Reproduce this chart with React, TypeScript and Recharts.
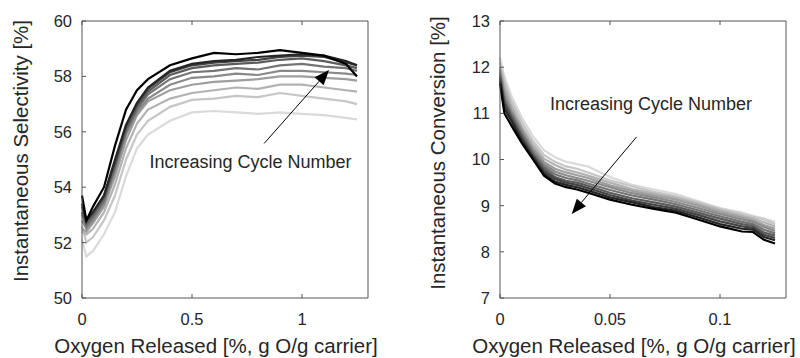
import React from "react";
import {
  LineChart,
  Line,
  XAxis,
  YAxis,
  ReferenceLine,
  ReferenceDot,
} from "recharts";

// cycle colours, first cycle lightest, last cycle black
const cycleColors = [
  "#dadada",
  "#c6c6c6",
  "#b2b2b2",
  "#9e9e9e",
  "#8a8a8a",
  "#747474",
  "#5c5c5c",
  "#444444",
  "#262626",
  "#000000",
];

// selectivity panel
const selX = [0, 0.02, 0.05, 0.1, 0.15, 0.2, 0.25, 0.3, 0.4, 0.5, 0.6, 0.7, 0.8, 0.9, 1.0, 1.1, 1.2, 1.25];
const selCycles = [
  [52.1, 51.5, 51.7, 52.3, 53.1, 54.4, 55.4, 55.9, 56.4, 56.7, 56.75, 56.7, 56.65, 56.7, 56.65, 56.6, 56.5, 56.45],
  [52.6, 52.0, 52.2, 52.8, 53.7, 55.0, 55.9, 56.4, 56.9, 57.15, 57.2, 57.3, 57.25, 57.4, 57.3, 57.2, 57.1, 57.0],
  [52.4, 52.3, 52.5, 53.1, 54.1, 55.4, 56.3, 56.8, 57.2, 57.4, 57.5, 57.6, 57.55, 57.7, 57.7, 57.6, 57.5, 57.45],
  [52.5, 52.4, 52.7, 53.3, 54.4, 55.7, 56.6, 57.1, 57.5, 57.7, 57.8, 57.85, 57.9, 58.0, 58.0, 57.95, 57.9, 57.85],
  [52.8, 52.5, 52.8, 53.4, 54.6, 55.9, 56.7, 57.2, 57.7, 57.95, 58.0, 58.1, 58.05, 58.2, 58.2, 58.15, 58.1, 58.05],
  [53.0, 52.6, 52.9, 53.5, 54.7, 56.0, 56.8, 57.35, 57.9, 58.15, 58.2, 58.3, 58.25, 58.4, 58.45, 58.35, 58.3, 58.2],
  [53.1, 52.7, 53.0, 53.6, 54.8, 56.1, 56.9, 57.45, 58.05, 58.3, 58.4, 58.45, 58.5, 58.6, 58.65, 58.55, 58.4, 58.3],
  [53.3, 52.8, 53.1, 53.7, 54.9, 56.2, 57.0, 57.55, 58.15, 58.4, 58.5, 58.55, 58.6, 58.7, 58.75, 58.7, 58.5, 58.4],
  [53.4, 52.8, 53.1, 53.7, 55.0, 56.25, 57.05, 57.6, 58.2, 58.45, 58.55, 58.6, 58.7, 58.75, 58.8, 58.75, 58.55, 58.4],
  [53.7, 52.8, 53.3, 54.0, 55.5, 56.8, 57.5, 57.9, 58.4, 58.65, 58.85, 58.8, 58.85, 58.95, 58.85, 58.75, 58.45, 58.0],
];
const selXTicks = [0, 0.5, 1];
const selYTicks = [50, 52, 54, 56, 58, 60];

// conversion panel
const convX = [0, 0.002, 0.005, 0.01, 0.015, 0.02, 0.025, 0.03, 0.035, 0.04, 0.05, 0.06, 0.07, 0.08, 0.09, 0.1, 0.11, 0.115, 0.12, 0.125];
const convCycles = [
  [12.2, 11.8, 11.4, 10.9, 10.5, 10.2, 10.05, 9.95, 9.9, 9.85, 9.62, 9.45, 9.35, 9.25, 9.1, 8.95, 8.85, 8.78, 8.72, 8.65],
  [12.1, 11.7, 11.3, 10.8, 10.4, 10.1, 9.95, 9.85, 9.8, 9.72, 9.55, 9.42, 9.3, 9.2, 9.07, 8.93, 8.82, 8.76, 8.7, 8.6],
  [12.0, 11.6, 11.2, 10.7, 10.32, 10.02, 9.88, 9.78, 9.72, 9.65, 9.5, 9.36, 9.26, 9.17, 9.04, 8.9, 8.78, 8.72, 8.64, 8.55],
  [11.95, 11.5, 11.1, 10.65, 10.25, 9.95, 9.8, 9.72, 9.66, 9.6, 9.44, 9.32, 9.22, 9.13, 9.0, 8.86, 8.74, 8.68, 8.58, 8.5],
  [11.9, 11.4, 11.05, 10.6, 10.2, 9.9, 9.74, 9.66, 9.6, 9.54, 9.4, 9.27, 9.18, 9.08, 8.95, 8.82, 8.7, 8.65, 8.54, 8.45],
  [11.85, 11.3, 11.0, 10.55, 10.15, 9.85, 9.68, 9.6, 9.55, 9.48, 9.34, 9.22, 9.13, 9.03, 8.9, 8.77, 8.65, 8.6, 8.48, 8.4],
  [11.8, 11.25, 10.95, 10.5, 10.1, 9.8, 9.62, 9.54, 9.5, 9.43, 9.28, 9.16, 9.07, 8.98, 8.85, 8.72, 8.6, 8.56, 8.42, 8.35],
  [11.75, 11.2, 10.9, 10.45, 10.07, 9.75, 9.58, 9.5, 9.45, 9.38, 9.23, 9.11, 9.02, 8.93, 8.8, 8.66, 8.55, 8.52, 8.37, 8.3],
  [11.7, 11.1, 10.85, 10.4, 10.03, 9.7, 9.52, 9.45, 9.4, 9.33, 9.18, 9.07, 8.97, 8.89, 8.75, 8.6, 8.5, 8.48, 8.32, 8.25],
  [11.65, 11.0, 10.75, 10.35, 10.0, 9.65, 9.48, 9.4, 9.35, 9.28, 9.13, 9.02, 8.93, 8.85, 8.7, 8.55, 8.44, 8.43, 8.26, 8.18],
];
const convXTicks = [0, 0.05, 0.1];
const convYTicks = [7, 8, 9, 10, 11, 12, 13];

// annotation anchors (data coordinates)
const selArrow = [{ x: 0.828, y: 55.58 }, { x: 1.123, y: 58.23 }];
const selNote = { x: 0.307, y: 54.68 };
const convArrow = [{ x: 0.0621, y: 10.49 }, { x: 0.0326, y: 8.82 }];
const convNote = { x: 0.0227, y: 11.07 };

const FONT = '"Liberation Sans", Arial, Helvetica, sans-serif';
const TEXT = "#262626";
const BOX = "#555555";
const TICK = 4;

function buildRows(xs: number[], cycles: number[][]) {
  return xs.map((x, i) => {
    const row: Record<string, number> = { x };
    cycles.forEach((c, k) => {
      row[`c${k + 1}`] = c[i];
    });
    return row;
  });
}

const LeftTick = (props: any) => {
  const { x, y, payload } = props;
  return (
    <g>
      <line x1={x + 10} y1={y} x2={x + 10 + TICK} y2={y} stroke={BOX} />
      <text x={x} y={y} dy="0.36em" textAnchor="end" fill={TEXT} fontSize={16.5} fontFamily={FONT}>
        {payload.value}
      </text>
    </g>
  );
};

const RightTick = (props: any) => {
  const { x, y } = props;
  return <line x1={x} y1={y} x2={x - TICK} y2={y} stroke={BOX} />;
};

const TopTick = (props: any) => {
  const { x, y } = props;
  return <line x1={x} y1={y} x2={x} y2={y + TICK} stroke={BOX} />;
};

const BottomTick = (props: any) => {
  const { x, y, payload } = props;
  return (
    <g>
      <line x1={x} y1={y} x2={x} y2={y - TICK} stroke={BOX} />
      <text x={x} y={y + 27} textAnchor="middle" fill={TEXT} fontSize={16.5} fontFamily={FONT}>
        {payload.value}
      </text>
    </g>
  );
};

const Arrow = (props: any) => {
  const { x1, y1, x2, y2 } = props;
  const len = Math.hypot(x2 - x1, y2 - y1);
  const ux = (x2 - x1) / len;
  const uy = (y2 - y1) / len;
  const headLen = 15;
  const headHalf = 6;
  const bx = x2 - ux * headLen;
  const by = y2 - uy * headLen;
  const pts = `${x2},${y2} ${bx - uy * headHalf},${by + ux * headHalf} ${bx + uy * headHalf},${by - ux * headHalf}`;
  return (
    <g>
      <line x1={x1} y1={y1} x2={bx} y2={by} stroke="#000" strokeWidth={1} />
      <polygon points={pts} fill="#000" />
    </g>
  );
};

const Note = (props: any) => (
  <text x={props.cx} y={props.cy} fill={TEXT} fontSize={18} fontFamily={FONT}>
    Increasing Cycle Number
  </text>
);

interface PanelProps {
  rows: Record<string, number>[];
  xDomain: [number, number];
  yDomain: [number, number];
  xTicks: number[];
  yTicks: number[];
  yAxisWidth: number;
  rightMargin: number;
  xLabelX: number;
  yLabelX: number;
  yLabelY: number;
  yLabel: string;
  arrow: { x: number; y: number }[];
  note: { x: number; y: number };
}

function Panel({
  rows,
  xDomain,
  yDomain,
  xTicks,
  yTicks,
  yAxisWidth,
  rightMargin,
  xLabelX,
  yLabelX,
  yLabelY,
  yLabel,
  arrow,
  note,
}: PanelProps) {
  return (
    <LineChart
      width={400}
      height={358}
      data={rows}
      margin={{ top: 20, right: rightMargin - 1, bottom: 0, left: 0 }}
    >
      <XAxis
        xAxisId="b"
        dataKey="x"
        type="number"
        domain={xDomain}
        ticks={xTicks}
        height={60}
        tickSize={0}
        tickMargin={0}
        tickLine={false}
        axisLine={{ stroke: BOX }}
        tick={<BottomTick />}
        interval={0}
        label={() => (
          <text x={xLabelX} y={353} textAnchor="middle" fill={TEXT} fontSize={20.5} fontFamily={FONT}>
            Oxygen Released [%, g O/g carrier]
          </text>
        )}
      />
      <XAxis
        xAxisId="t"
        orientation="top"
        dataKey="x"
        type="number"
        domain={xDomain}
        ticks={xTicks}
        height={1}
        tickSize={0}
        tickMargin={0}
        tickLine={false}
        axisLine={{ stroke: BOX }}
        tick={<TopTick />}
        interval={0}
      />
      <YAxis
        yAxisId="l"
        type="number"
        domain={yDomain}
        ticks={yTicks}
        width={yAxisWidth}
        tickSize={0}
        tickMargin={10}
        tickLine={false}
        axisLine={{ stroke: BOX }}
        tick={<LeftTick />}
        interval={0}
        label={() => (
          <text
            x={yLabelX}
            y={yLabelY}
            transform={`rotate(-90 ${yLabelX} ${yLabelY})`}
            textAnchor="middle"
            fill={TEXT}
            fontSize={20.5}
            fontFamily={FONT}
          >
            {yLabel}
          </text>
        )}
      />
      <YAxis
        yAxisId="r"
        orientation="right"
        type="number"
        domain={yDomain}
        ticks={yTicks}
        width={1}
        tickSize={0}
        tickMargin={0}
        tickLine={false}
        axisLine={{ stroke: BOX }}
        tick={<RightTick />}
        interval={0}
      />
      {cycleColors.map((color, k) => (
        <Line
          key={k}
          xAxisId="b"
          yAxisId="l"
          dataKey={`c${k + 1}`}
          type="linear"
          stroke={color}
          strokeWidth={2.2}
          dot={false}
          activeDot={false}
          isAnimationActive={false}
        />
      ))}
      <ReferenceLine
        xAxisId="b"
        yAxisId="l"
        segment={arrow}
        shape={(p: any) => <Arrow {...p} />}
        ifOverflow="visible"
      />
      <ReferenceDot
        xAxisId="b"
        yAxisId="l"
        x={note.x}
        y={note.y}
        shape={(p: any) => <Note {...p} />}
        ifOverflow="visible"
      />
    </LineChart>
  );
}

export default function App() {
  const selRows = buildRows(selX, selCycles);
  const convRows = buildRows(convX, convCycles);
  return (
    <div
      style={{
        position: "absolute",
        left: 0,
        top: 0,
        width: 800,
        height: 358,
        background: "#fff",
        display: "flex",
      }}
    >
      <Panel
        rows={selRows}
        xDomain={[0, 1.3]}
        yDomain={[50, 60]}
        xTicks={selXTicks}
        yTicks={selYTicks}
        yAxisWidth={82}
        rightMargin={32}
        xLabelX={216}
        yLabelX={27.5}
        yLabelY={151}
        yLabel="Instantaneous Selectivity [%]"
        arrow={selArrow}
        note={selNote}
      />
      <Panel
        rows={convRows}
        xDomain={[0, 0.13]}
        yDomain={[7, 13]}
        xTicks={convXTicks}
        yTicks={convYTicks}
        yAxisWidth={100}
        rightMargin={14}
        xLabelX={234}
        yLabelX={45}
        yLabelY={153}
        yLabel="Instantaneous Conversion [%]"
        arrow={convArrow}
        note={convNote}
      />
    </div>
  );
}
